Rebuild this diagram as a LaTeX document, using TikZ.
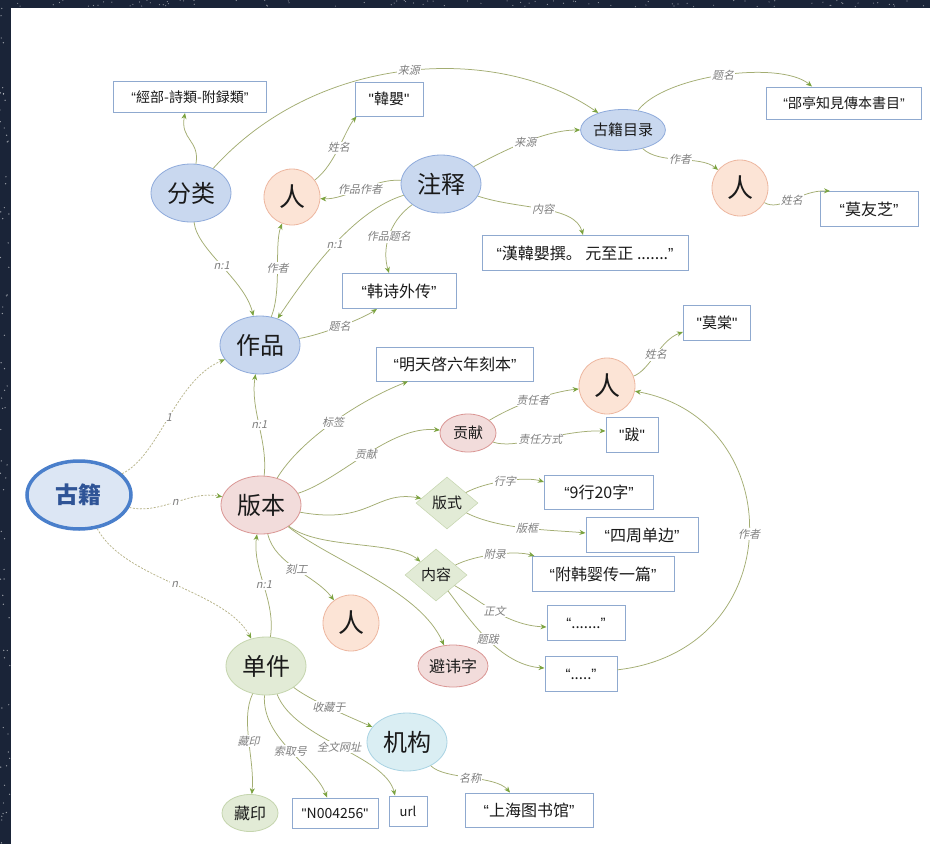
\documentclass[tikz,border=0pt]{standalone}
\usepackage{fontspec}
\setmainfont{Noto Sans CJK SC}
\newfontfamily\cjkslant[FakeSlant=0.22]{Noto Sans CJK SC}
\newfontfamily\quotefont{Liberation Sans}
\newfontfamily\plainquote[Ligatures=TeXOff]{Liberation Sans}
\usetikzlibrary{shapes.geometric,arrows.meta}
\newcommand\qq[1]{{\quotefont “}#1{\quotefont ”}}
\newcommand\sq[1]{{\plainquote "}#1{\plainquote "}}
\newcommand\fsz[1]{\fontsize{#1}{#1}\selectfont}

\definecolor{night}{HTML}{1A2438}
\definecolor{relLine}{HTML}{A3AD72}
\definecolor{tipGreen}{HTML}{7BA33F}
\definecolor{dashLine}{HTML}{B8B48A}
\definecolor{lblGray}{HTML}{7F7F7F}
\definecolor{boxLine}{HTML}{8FA9CF}
\definecolor{blueFill}{HTML}{C9D8EF}
\definecolor{blueLine}{HTML}{8EAADB}
\definecolor{gjFill}{HTML}{DCE6F4}
\definecolor{gjLine}{HTML}{4A7FCB}
\definecolor{gjText}{HTML}{2F5496}
\definecolor{pinkFill}{HTML}{F2DCDB}
\definecolor{pinkLine}{HTML}{DA9694}
\definecolor{peachFill}{HTML}{FCE4D6}
\definecolor{peachLine}{HTML}{EDB7A0}
\definecolor{greenFill}{HTML}{E2EBD6}
\definecolor{greenLine}{HTML}{C5D5AE}
\definecolor{cyanFill}{HTML}{DAEEF3}
\definecolor{cyanLine}{HTML}{A9D3E3}
\definecolor{inkText}{HTML}{1A1A1A}

\tikzset{
  ent/.style={ellipse, inner sep=0pt, line width=0.8pt, text=inkText},
  entBlue/.style={ent, fill=blueFill, draw=blueLine},
  entPink/.style={ent, fill=pinkFill, draw=pinkLine},
  entPeach/.style={ent, fill=peachFill, draw=peachLine, minimum width=56pt, minimum height=56pt, font=\fsz{26}},
  entGreen/.style={ent, fill=greenFill, draw=greenLine},
  entCyan/.style={ent, fill=cyanFill, draw=cyanLine},
  bigent/.style={minimum width=80pt, minimum height=58pt, font=\fsz{24}},
  rhomb/.style={diamond, inner sep=0pt, fill=greenFill, draw=greenLine, line width=0.5pt,
    minimum width=62pt, minimum height=52pt, font=\fsz{15}, text=inkText},
  attr/.style={rectangle, inner sep=0pt, fill=white, draw=boxLine, line width=1pt,
    font=\fsz{15}, text=inkText},
  lbl/.style={font=\cjkslant\fsz{11}, text=lblGray, fill=white, inner sep=1pt},
  rel/.style={draw=relLine, line width=0.75pt,
    -{Stealth[length=6pt,width=5pt,color=tipGreen]}},
  optrel/.style={rel, draw=dashLine, dash pattern=on 2pt off 1.5pt},
}

\begin{document}
\begin{tikzpicture}[x=1pt,y=-1pt]
\useasboundingbox (0,0) rectangle (930,844);

% night sky frame
\fill[night] (0,0) rectangle (930,844);
\pgfmathsetseed{7}
\foreach \k in {1,...,70}{\fill[white, opacity=0.55] ({rnd*10},{rnd*844}) circle (0.7);}
\foreach \k in {1,...,90}{\fill[white, opacity=0.5] ({11+rnd*919},{rnd*7}) circle (0.6);}
\fill[white] (11,8) rectangle (930,844);

% ---------- entities ----------
\node[ent, minimum width=104pt, minimum height=68pt, line width=3.5pt,
      draw=gjLine, fill=gjFill, text=gjText, font=\fsz{23}\bfseries] (gj) at (79,495) {古籍};
\node[entBlue, bigent] (zp) at (260,345) {作品};
\node[entPink, bigent] (bb) at (261,505) {版本};
\node[entBlue, bigent] (fl) at (191,193) {分类};
\node[entBlue, bigent] (zs) at (441,184) {注释};
\node[entBlue, minimum width=82pt, minimum height=41pt, font=\fsz{15}] (ml) at (623,130) {古籍目录};
\node[entPeach] (rA) at (292,197) {人};
\node[entPeach] (rB) at (740,188) {人};
\node[entPeach] (rC) at (607,386) {人};
\node[entPeach] (rD) at (351,623) {人};
\node[entPink, minimum width=56pt, minimum height=38pt, font=\fsz{15}] (gx) at (468,433) {贡献};
\node[entPink, minimum width=70pt, minimum height=42pt, font=\fsz{16}] (bh) at (453,666) {避讳字};
\node[entGreen, bigent] (dj) at (266,666) {单件};
\node[entCyan, bigent] (jg) at (407,742) {机构};
\node[entGreen, minimum width=56pt, minimum height=37pt, font=\fsz{16}] (cy) at (250,813) {藏印};
\node[rhomb] (bs) at (447,503) {版式};
\node[rhomb] (nc) at (436,575) {内容};

% ---------- literal values ----------
\node[attr, minimum width=153pt, minimum height=31pt, font=\fsz{14}] (jb) at (190,97) {\qq{經部-詩類-附録類}};
\node[attr, minimum width=68pt, minimum height=34pt] (hy) at (389,99) {\sq{韓嬰}};
\node[attr, minimum width=114pt, minimum height=35pt, font=\fsz{16}] (hs) at (399,291) {\qq{韩诗外传}};
\node[attr, minimum width=155pt, minimum height=32pt, font=\fsz{14}] (tm) at (844,103) {\qq{郘亭知見傳本書目}};
\node[attr, minimum width=98pt, minimum height=35pt, font=\fsz{16}] (myz) at (869,209) {\qq{莫友芝}};
\node[attr, minimum width=206pt, minimum height=35pt, font=\fsz{16}] (nr) at (585,253) {\qq{漢韓嬰撰。 元至正 .......}};
\node[attr, minimum width=157pt, minimum height=34pt, font=\fsz{16}] (bq) at (455,364) {\qq{明天啓六年刻本}};
\node[attr, minimum width=67pt, minimum height=35pt] (mt) at (717,323) {\sq{莫棠}};
\node[attr, minimum width=52pt, minimum height=35pt] (ba) at (632,435) {\sq{跋}};
\node[attr, minimum width=109pt, minimum height=34pt, font=\fsz{16}] (hz) at (599,492) {\qq{9行20字}};
\node[attr, minimum width=112pt, minimum height=35pt, font=\fsz{16}] (sz) at (642,535) {\qq{四周单边}};
\node[attr, minimum width=142pt, minimum height=35pt, font=\fsz{16}] (fl2) at (603,574) {\qq{附韩婴传一篇}};
\node[attr, minimum width=78pt, minimum height=35pt] (zw) at (586,623) {\qq{.......}};
\node[attr, minimum width=72pt, minimum height=35pt] (tb) at (581,674) {\qq{.....}};
\node[attr, minimum width=86pt, minimum height=30pt, font=\fsz{14}] (sq) at (335,813) {\sq{N004256}};
\node[attr, minimum width=38pt, minimum height=30pt, font=\fsz{13}] (url) at (408,811) {url};
\node[attr, minimum width=128pt, minimum height=34pt, font=\fsz{16}] (sh) at (529,810) {\qq{上海图书馆}};

% ---------- relations ----------
% 古籍
\draw[optrel] (gj) .. controls (160,455) and (175,380) .. (zp) node[lbl,pos=0.5] {1};
\draw[optrel] (gj) .. controls (160,515) and (190,490) .. (bb) node[lbl,pos=0.5] {n};
\draw[optrel] (gj) .. controls (125,580) and (225,590) .. (dj) node[lbl,pos=0.5] {n};

% 分类
\draw[rel] (fl) .. controls (200,140) and (180,140) .. ([xshift=-5pt]jb.south);
\draw[rel] (fl) .. controls (320,50) and (500,45) .. (ml) node[lbl,pos=0.5] {来源};
\draw[rel] (fl) .. controls (197,250) and (245,280) .. (zp) node[lbl,pos=0.5] {n:1};

% 作品
\draw[rel] (zp) .. controls (282,290) and (274,245) .. (rA) node[lbl,pos=0.5] {作者};
\draw[rel] (zp) .. controls (320,335) and (360,320) .. ([xshift=-22pt]hs.south) node[lbl,pos=0.5] {题名};

% 注释
\draw[rel] (zs) .. controls (355,210) and (310,270) .. (zp) node[lbl,pos=0.5] {n:1};
\draw[rel] (zs) .. controls (375,178) and (345,200) .. (rA) node[lbl,pos=0.5] {作品作者};
\draw[rel] (zs) .. controls (388,222) and (382,250) .. ([xshift=-10pt]hs.north) node[lbl,pos=0.5] {作品题名};
\draw[rel] (zs) .. controls (505,150) and (545,130) .. (ml) node[lbl,pos=0.5] {来源};
\draw[rel] (zs) .. controls (520,210) and (575,205) .. ([xshift=-2pt]nr.north) node[lbl,pos=0.5] {内容};
\draw[rel] (rA) .. controls (335,165) and (345,130) .. ([xshift=2pt]hy.south west) node[lbl,pos=0.5] {姓名};

% 古籍目录
\draw[rel] (ml) .. controls (665,75) and (780,60) .. ([xshift=-32pt]tm.north) node[lbl,pos=0.5] {题名};
\draw[rel] (ml) .. controls (660,165) and (700,155) .. (rB) node[lbl,pos=0.5] {作者};
\draw[rel] (rB) .. controls (780,212) and (800,190) .. ([xshift=-39pt]myz.north) node[lbl,pos=0.5] {姓名};

% 版本
\draw[rel] (bb) .. controls (268,440) and (250,410) .. (zp) node[lbl,pos=0.5] {n:1};
\draw[rel] (bb) .. controls (300,440) and (360,400) .. ([xshift=-47pt]bq.south) node[lbl,pos=0.5] {标签};
\draw[rel] (bb) .. controls (340,480) and (390,425) .. (gx) node[lbl,pos=0.5] {贡献};
\draw[rel] (bb) .. controls (370,525) and (375,490) .. (bs);
\draw[rel] (bb) .. controls (320,550) and (395,540) .. (nc);
\draw[rel] (bb) .. controls (330,560) and (420,590) .. (bh);
\draw[rel] (bb) .. controls (275,565) and (315,575) .. (rD) node[lbl,pos=0.5] {刻工};

% 贡献
\draw[rel] (gx) .. controls (515,405) and (550,392) .. (rC) node[lbl,pos=0.5] {责任者};
\draw[rel] (gx) .. controls (515,450) and (560,430) .. ([yshift=4pt]ba.west) node[lbl,pos=0.5] {责任方式};
\draw[rel] (rC) .. controls (650,370) and (660,340) .. ([yshift=-9pt]mt.west) node[lbl,pos=0.5] {姓名};

% 版式 / 内容
\draw[rel] (bs) .. controls (485,482) and (525,476) .. ([yshift=10pt]hz.west) node[lbl,pos=0.5] {行字};
\draw[rel] (bs) .. controls (500,530) and (555,530) .. ([yshift=2pt]sz.west) node[lbl,pos=0.5] {版框};
\draw[rel] (nc) .. controls (475,555) and (515,550) .. ([xshift=3pt]fl2.north west) node[lbl,pos=0.5] {附录};
\draw[rel] (nc) .. controls (480,600) and (505,625) .. ([yshift=-4pt]zw.west) node[lbl,pos=0.5] {正文};
\draw[rel] (nc) .. controls (470,620) and (500,665) .. ([yshift=6pt]tb.west) node[lbl,pos=0.5] {题跋};
\draw[rel] (tb) .. controls (790,650) and (790,420) .. (rC) node[lbl,pos=0.5] {作者};

% 单件
\draw[rel] (dj) .. controls (276,600) and (252,570) .. (bb) node[lbl,pos=0.5] {n:1};
\draw[rel] (dj) .. controls (310,700) and (345,715) .. (jg) node[lbl,pos=0.5] {收藏于};
\draw[rel] (dj) .. controls (240,720) and (255,760) .. (cy) node[lbl,pos=0.5] {藏印};
\draw[rel] (dj) .. controls (262,740) and (315,765) .. ([xshift=-8pt]sq.north) node[lbl,pos=0.5] {索取号};
\draw[rel] (dj) .. controls (295,740) and (385,755) .. ([xshift=-13pt]url.north) node[lbl,pos=0.5] {全文网址};
\draw[rel] (jg) .. controls (445,780) and (495,775) .. ([xshift=-19pt]sh.north) node[lbl,pos=0.5] {名称};

\end{tikzpicture}
\end{document}
